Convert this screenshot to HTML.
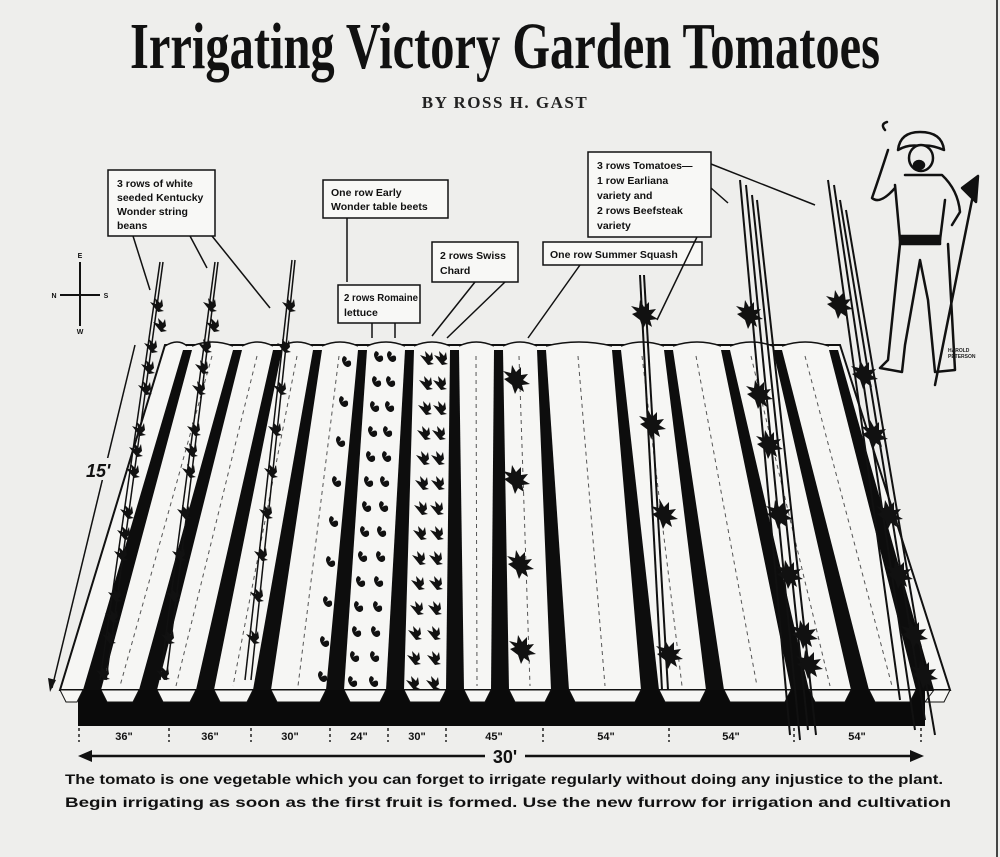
<!DOCTYPE html>
<html><head><meta charset="utf-8"><style>
html,body{margin:0;padding:0;background:#eeeeec;}
svg{display:block;}
.lb{font-family:"Liberation Sans",sans-serif;font-weight:bold;font-size:10.5px;fill:#111;}
</style></head><body>
<svg width="1000" height="857" viewBox="0 0 1000 857" xmlns="http://www.w3.org/2000/svg" xmlns:xlink="http://www.w3.org/1999/xlink">
<defs>
<path id="p" d="M0,0 l-4,-5 l6,2 l-1,-6 l5,5 l2,-4 l1,7 l-3,3 l4,2 l-6,1 z" fill="#111"/>
<path id="q" d="M0,0 l-8,-6 l5,-2 l-6,-6 l8,2 l1,-8 l4,7 l5,-5 l0,8 l7,-1 l-5,6 l7,4 l-8,1 l2,7 l-6,-4 l-3,6 z" fill="#111"/>
<path id="r" d="M0,0 q-4,-6 0,-9 q5,2 1,6 q7,-4 6,3 q-3,4 -7,0 z" fill="#111"/>
</defs>
<rect width="1000" height="857" fill="#eeeeec"/>
<line x1="997" y1="0" x2="997" y2="857" stroke="#444" stroke-width="2"/>
<text x="505" y="68" text-anchor="middle" font-family="'Liberation Serif',serif" font-weight="bold" font-size="66" textLength="750" lengthAdjust="spacingAndGlyphs" fill="#111">Irrigating Victory Garden Tomatoes</text>
<text x="505" y="108" text-anchor="middle" font-family="'Liberation Serif',serif" font-weight="bold" font-size="17" letter-spacing="1.5" fill="#222">BY ROSS H. GAST</text>

<!-- field -->
<polygon points="165,345 840,345 950,690 60,690" fill="#f6f6f4" stroke="#111" stroke-width="2"/>
<g fill="#0d0d0d">
<polygon points="183,350 192,350 101,690 83,690"/>
<polygon points="233,350 242,350 157,690 139,690"/>
<polygon points="273,350 282,350 214,690 196,690"/>
<polygon points="313,350 322,350 271,690 253,690"/>
<polygon points="358,350 367,350 344,690 326,690"/>
<polygon points="405,350 414,350 404,690 386,690"/>
<polygon points="450,350 459,350 464,690 446,690"/>
<polygon points="494,350 503,350 509,690 491,690"/>
<polygon points="537,350 546,350 569,690 551,690"/>
<polygon points="612,350 621,350 659,690 641,690"/>
<polygon points="664,350 673,350 724,690 706,690"/>
<polygon points="721,350 730,350 809,690 791,690"/>
<polygon points="773,350 782,350 869,690 851,690"/>
<polygon points="829,350 838,350 934,690 916,690"/>
</g>
<g stroke="#555" stroke-width="1" stroke-dasharray="4,4">
<line x1="212" y1="356" x2="120" y2="686"/><line x1="257" y1="356" x2="176" y2="686"/><line x1="297" y1="356" x2="233" y2="686"/><line x1="339" y1="356" x2="298" y2="686"/><line x1="476" y1="356" x2="477" y2="686"/><line x1="519" y1="356" x2="530" y2="686"/><line x1="578" y1="356" x2="605" y2="686"/><line x1="642" y1="356" x2="682" y2="686"/><line x1="696" y1="356" x2="757" y2="686"/><line x1="751" y1="356" x2="830" y2="686"/><line x1="805" y1="356" x2="892" y2="686"/>
</g>
<!-- ridge bumps on top -->
<g fill="#f6f6f4" stroke="#111" stroke-width="1.5">
<path d="M165,346 Q178,338 187,346"/><path d="M192,346 Q212,338 233,346"/><path d="M242,346 Q257,338 273,346"/><path d="M282,346 Q297,338 313,346"/><path d="M322,346 Q340,338 358,346"/><path d="M367,346 Q386,338 405,346"/><path d="M414,346 Q432,338 450,346"/><path d="M459,346 Q476,338 494,346"/><path d="M503,346 Q520,338 537,346"/><path d="M546,346 Q579,338 612,346"/><path d="M621,346 Q642,338 664,346"/><path d="M673,346 Q697,338 721,346"/><path d="M730,346 Q751,338 773,346"/><path d="M782,346 Q805,338 829,346"/>
</g>
<rect x="78" y="690" width="847" height="36" fill="#0a0a0a"/>
<!-- sawtooth ends of beds -->
<g fill="#f6f6f4" stroke="#111" stroke-width="1">
<polygon points="60,690 83,690 77,702 66,702"/>
<polygon points="101,690 139,690 133,702 107,702"/>
<polygon points="157,690 196,690 190,702 163,702"/>
<polygon points="214,690 253,690 247,702 220,702"/>
<polygon points="271,690 326,690 320,702 277,702"/>
<polygon points="344,690 386,690 380,702 350,702"/>
<polygon points="404,690 446,690 440,702 410,702"/>
<polygon points="464,690 491,690 485,702 470,702"/>
<polygon points="509,690 551,690 545,702 515,702"/>
<polygon points="569,690 641,690 635,702 575,702"/>
<polygon points="659,690 706,690 700,702 665,702"/>
<polygon points="724,690 791,690 785,702 730,702"/>
<polygon points="809,690 851,690 845,702 815,702"/>
<polygon points="869,690 916,690 910,702 875,702"/>
<polygon points="934,690 950,690 944,702 925,702"/>
</g>

<!-- bean poles -->
<g stroke="#111" stroke-width="1.5">
<line x1="160" y1="262" x2="100" y2="680"/><line x1="163" y1="262" x2="106" y2="680"/>
<line x1="215" y1="262" x2="160" y2="680"/><line x1="218" y1="262" x2="166" y2="680"/>
<line x1="292" y1="260" x2="245" y2="680"/><line x1="295" y1="260" x2="251" y2="680"/>
</g>
<g>
<use xlink:href="#p" x="154" y="307"/><use xlink:href="#p" x="148" y="348"/><use xlink:href="#p" x="142" y="390"/><use xlink:href="#p" x="136" y="431"/><use xlink:href="#p" x="130" y="473"/><use xlink:href="#p" x="124" y="514"/><use xlink:href="#p" x="118" y="556"/><use xlink:href="#p" x="112" y="597"/><use xlink:href="#p" x="106" y="639"/><use xlink:href="#p" x="100" y="675"/>
<use xlink:href="#p" x="157" y="327"/><use xlink:href="#p" x="145" y="369"/><use xlink:href="#p" x="133" y="452"/><use xlink:href="#p" x="121" y="535"/><use xlink:href="#p" x="109" y="618"/>
<use xlink:href="#p" x="207" y="307"/><use xlink:href="#p" x="202" y="348"/><use xlink:href="#p" x="196" y="390"/><use xlink:href="#p" x="191" y="431"/><use xlink:href="#p" x="186" y="473"/><use xlink:href="#p" x="181" y="514"/><use xlink:href="#p" x="176" y="556"/><use xlink:href="#p" x="170" y="597"/><use xlink:href="#p" x="165" y="639"/><use xlink:href="#p" x="160" y="675"/>
<use xlink:href="#p" x="210" y="327"/><use xlink:href="#p" x="199" y="369"/><use xlink:href="#p" x="188" y="452"/>
<use xlink:href="#p" x="286" y="307"/><use xlink:href="#p" x="281" y="348"/><use xlink:href="#p" x="277" y="390"/><use xlink:href="#p" x="272" y="431"/><use xlink:href="#p" x="268" y="473"/><use xlink:href="#p" x="263" y="514"/><use xlink:href="#p" x="258" y="556"/><use xlink:href="#p" x="254" y="597"/><use xlink:href="#p" x="250" y="639"/>
<!-- beets -->
<use xlink:href="#r" x="344" y="365"/><use xlink:href="#r" x="341" y="405"/><use xlink:href="#r" x="338" y="445"/><use xlink:href="#r" x="334" y="485"/><use xlink:href="#r" x="331" y="525"/><use xlink:href="#r" x="328" y="565"/><use xlink:href="#r" x="325" y="605"/><use xlink:href="#r" x="322" y="645"/><use xlink:href="#r" x="320" y="680"/>
<!-- lettuce -->
<use xlink:href="#r" x="376" y="360"/><use xlink:href="#r" x="374" y="385"/><use xlink:href="#r" x="372" y="410"/><use xlink:href="#r" x="370" y="435"/><use xlink:href="#r" x="368" y="460"/><use xlink:href="#r" x="366" y="485"/><use xlink:href="#r" x="364" y="510"/><use xlink:href="#r" x="362" y="535"/><use xlink:href="#r" x="360" y="560"/><use xlink:href="#r" x="358" y="585"/><use xlink:href="#r" x="356" y="610"/><use xlink:href="#r" x="354" y="635"/><use xlink:href="#r" x="352" y="660"/><use xlink:href="#r" x="350" y="685"/>
<use xlink:href="#r" x="389" y="360"/><use xlink:href="#r" x="388" y="385"/><use xlink:href="#r" x="387" y="410"/><use xlink:href="#r" x="385" y="435"/><use xlink:href="#r" x="384" y="460"/><use xlink:href="#r" x="382" y="485"/><use xlink:href="#r" x="381" y="510"/><use xlink:href="#r" x="379" y="535"/><use xlink:href="#r" x="378" y="560"/><use xlink:href="#r" x="376" y="585"/><use xlink:href="#r" x="375" y="610"/><use xlink:href="#r" x="373" y="635"/><use xlink:href="#r" x="372" y="660"/><use xlink:href="#r" x="371" y="685"/>
<!-- chard -->
<use xlink:href="#p" x="424" y="360"/><use xlink:href="#p" x="423" y="385"/><use xlink:href="#p" x="422" y="410"/><use xlink:href="#p" x="421" y="435"/><use xlink:href="#p" x="420" y="460"/><use xlink:href="#p" x="419" y="485"/><use xlink:href="#p" x="418" y="510"/><use xlink:href="#p" x="417" y="535"/><use xlink:href="#p" x="416" y="560"/><use xlink:href="#p" x="415" y="585"/><use xlink:href="#p" x="414" y="610"/><use xlink:href="#p" x="412" y="635"/><use xlink:href="#p" x="411" y="660"/><use xlink:href="#p" x="410" y="685"/>
<use xlink:href="#p" x="438" y="360"/><use xlink:href="#p" x="437" y="385"/><use xlink:href="#p" x="437" y="410"/><use xlink:href="#p" x="436" y="435"/><use xlink:href="#p" x="435" y="460"/><use xlink:href="#p" x="435" y="485"/><use xlink:href="#p" x="434" y="510"/><use xlink:href="#p" x="434" y="535"/><use xlink:href="#p" x="433" y="560"/><use xlink:href="#p" x="433" y="585"/><use xlink:href="#p" x="432" y="610"/><use xlink:href="#p" x="431" y="635"/><use xlink:href="#p" x="431" y="660"/><use xlink:href="#p" x="430" y="685"/>
<!-- squash -->
<use xlink:href="#q" x="512" y="385"/><use xlink:href="#q" x="512" y="485"/><use xlink:href="#q" x="516" y="570"/><use xlink:href="#q" x="518" y="655"/>
</g>
<!-- tomato stakes -->
<g stroke="#111" stroke-width="2">
<line x1="640" y1="275" x2="662" y2="690"/><line x1="644" y1="275" x2="668" y2="690"/>
<line x1="740" y1="180" x2="790" y2="735"/><line x1="746" y1="185" x2="800" y2="740"/><line x1="752" y1="195" x2="808" y2="730"/><line x1="757" y1="200" x2="816" y2="735"/>
<line x1="828" y1="180" x2="900" y2="700"/><line x1="834" y1="185" x2="915" y2="730"/><line x1="840" y1="200" x2="925" y2="720"/><line x1="846" y1="210" x2="935" y2="735"/>
</g>
<g>
<use xlink:href="#q" x="640" y="320"/><use xlink:href="#q" x="648" y="430"/><use xlink:href="#q" x="660" y="520"/><use xlink:href="#q" x="665" y="660"/>
<use xlink:href="#q" x="745" y="320"/><use xlink:href="#q" x="755" y="400"/><use xlink:href="#q" x="765" y="450"/><use xlink:href="#q" x="775" y="520"/><use xlink:href="#q" x="785" y="580"/><use xlink:href="#q" x="800" y="640"/><use xlink:href="#q" x="805" y="670"/>
<use xlink:href="#q" x="835" y="310"/><use xlink:href="#q" x="860" y="380"/><use xlink:href="#q" x="870" y="440"/><use xlink:href="#q" x="885" y="520"/><use xlink:href="#q" x="895" y="580"/><use xlink:href="#q" x="910" y="640"/><use xlink:href="#q" x="920" y="680"/>
</g>

<!-- ruler -->
<g stroke="#222" stroke-width="1.5" stroke-dasharray="3,3">
<line x1="79" y1="728" x2="79" y2="742"/><line x1="169" y1="728" x2="169" y2="742"/><line x1="251" y1="728" x2="251" y2="742"/><line x1="330" y1="728" x2="330" y2="742"/><line x1="388" y1="728" x2="388" y2="742"/><line x1="446" y1="728" x2="446" y2="742"/><line x1="543" y1="728" x2="543" y2="742"/><line x1="669" y1="728" x2="669" y2="742"/><line x1="794" y1="728" x2="794" y2="742"/><line x1="921" y1="728" x2="921" y2="742"/>
</g>
<g font-family="'Liberation Sans',sans-serif" font-weight="bold" font-size="11" fill="#111" text-anchor="middle">
<text x="124" y="740">36"</text><text x="210" y="740">36"</text><text x="290" y="740">30"</text><text x="359" y="740">24"</text><text x="417" y="740">30"</text><text x="494" y="740">45"</text><text x="606" y="740">54"</text><text x="731" y="740">54"</text><text x="857" y="740">54"</text>
</g>
<line x1="88" y1="756" x2="915" y2="756" stroke="#111" stroke-width="2.5"/>
<polygon points="78,756 92,750 92,762" fill="#111"/><polygon points="924,756 910,750 910,762" fill="#111"/>
<rect x="485" y="745" width="40" height="20" fill="#eeeeec"/>
<text x="505" y="763" text-anchor="middle" font-family="'Liberation Sans',sans-serif" font-weight="bold" font-size="18" fill="#111">30'</text>

<text x="65" y="784" font-family="'Liberation Sans',sans-serif" font-weight="bold" font-size="14" textLength="878" lengthAdjust="spacingAndGlyphs" fill="#111">The tomato is one vegetable which you can forget to irrigate regularly without doing any injustice to the plant.</text>
<text x="65" y="807" font-family="'Liberation Sans',sans-serif" font-weight="bold" font-size="14" textLength="886" lengthAdjust="spacingAndGlyphs" fill="#111">Begin irrigating as soon as the first fruit is formed.  Use the new furrow for irrigation and cultivation</text>

<!-- left dimension -->
<line x1="135" y1="345" x2="52" y2="688" stroke="#111" stroke-width="1.5"/>
<polygon points="50,692 48,678 56,680" fill="#111"/>
<rect x="84" y="458" width="26" height="22" fill="#eeeeec"/>
<text x="86" y="477" font-family="'Liberation Sans',sans-serif" font-style="italic" font-weight="bold" font-size="18" fill="#111">15'</text>

<!-- compass -->
<g stroke="#111" stroke-width="2"><line x1="80" y1="262" x2="80" y2="326"/><line x1="60" y1="295" x2="100" y2="295"/></g>
<g font-family="'Liberation Sans',sans-serif" font-weight="bold" font-size="7" fill="#111" text-anchor="middle"><text x="80" y="258">E</text><text x="80" y="334">W</text><text x="54" y="298">N</text><text x="106" y="298">S</text></g>

<!-- labels -->
<g fill="#f8f8f6" stroke="#111" stroke-width="1.5">
<rect x="108" y="170" width="107" height="66"/>
<rect x="323" y="180" width="125" height="38"/>
<rect x="338" y="285" width="82" height="38"/>
<rect x="432" y="242" width="86" height="40"/>
<rect x="543" y="242" width="159" height="23"/>
<rect x="588" y="152" width="123" height="85"/>
</g>
<g class="lb">
<text x="117" y="187">3 rows of white</text><text x="117" y="201">seeded Kentucky</text><text x="117" y="215">Wonder string</text><text x="117" y="229">beans</text>
<text x="331" y="196">One row Early</text><text x="331" y="210">Wonder table beets</text>
<text x="344" y="301" textLength="74" lengthAdjust="spacingAndGlyphs">2 rows Romaine</text><text x="344" y="316">lettuce</text>
<text x="440" y="259">2 rows Swiss</text><text x="440" y="274">Chard</text>
<text x="550" y="258">One row Summer Squash</text>
<text x="597" y="169">3 rows Tomatoes—</text><text x="597" y="184">1 row Earliana</text><text x="597" y="199">variety and</text><text x="597" y="214">2 rows Beefsteak</text><text x="597" y="229">variety</text>
</g>
<g stroke="#111" stroke-width="1.5" fill="none">
<line x1="133" y1="236" x2="150" y2="290"/><line x1="190" y1="236" x2="207" y2="268"/><line x1="212" y1="236" x2="270" y2="308"/>
<line x1="347" y1="218" x2="347" y2="282"/>
<line x1="372" y1="323" x2="372" y2="338"/><line x1="395" y1="323" x2="395" y2="338"/>
<line x1="475" y1="282" x2="432" y2="336"/><line x1="505" y1="282" x2="447" y2="338"/>
<line x1="580" y1="265" x2="528" y2="338"/>
<line x1="697" y1="237" x2="657" y2="320"/><line x1="711" y1="188" x2="728" y2="203"/><line x1="711" y1="164" x2="815" y2="205"/>
</g>

<!-- farmer -->
<g stroke="#111" stroke-width="2.5" fill="none" stroke-linecap="round" stroke-linejoin="round">
<path d="M898,150 Q900,132 920,132 Q942,132 944,150 Q930,144 920,146 Q908,144 898,150 Z" fill="#eeeeec"/>
<ellipse cx="921" cy="158" rx="12" ry="13" fill="#eeeeec"/>
<ellipse cx="919" cy="165" rx="5" ry="4" fill="#111"/>
<path d="M888,150 Q880,175 872,198 Q880,205 895,188"/>
<path d="M905,175 L942,175 Q958,190 960,212 L952,225"/>
<path d="M895,185 L900,240 L940,240 L945,200"/>
<rect x="900" y="236" width="40" height="8" fill="#111"/>
<path d="M900,244 L888,360 L880,368 L902,372 L905,345 L920,260 L928,300 L935,372 L955,370 L948,244"/>
<path d="M972,200 L935,385"/>
<path d="M962,188 L978,176 L976,202 Z" fill="#111"/>
<path d="M885,130 q-5,-6 2,-8"/>
</g>
<text x="948" y="352" font-family="'Liberation Sans',sans-serif" font-size="5" font-weight="bold" fill="#222">HAROLD</text>
<text x="948" y="358" font-family="'Liberation Sans',sans-serif" font-size="5" font-weight="bold" fill="#222">PETERSON</text>
</svg>
</body></html>
